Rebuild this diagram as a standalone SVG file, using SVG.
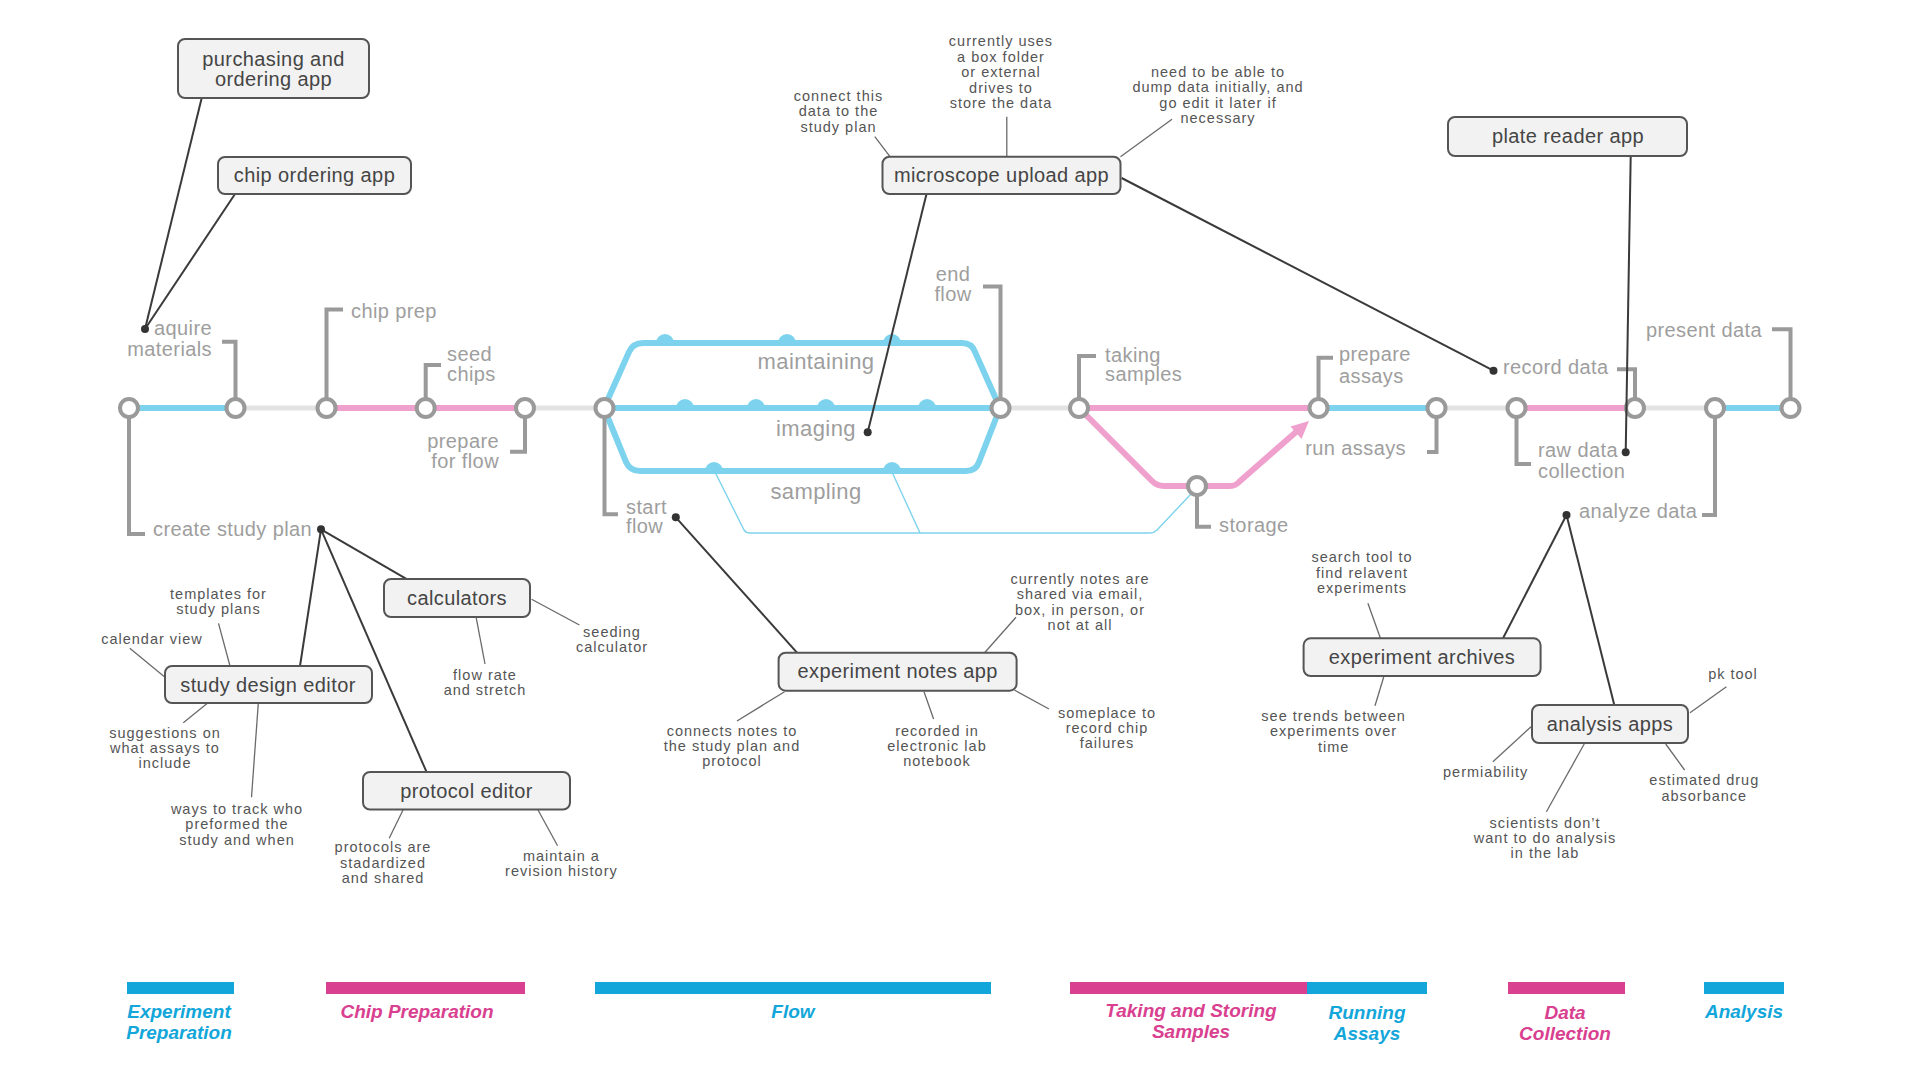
<svg xmlns="http://www.w3.org/2000/svg" width="1920" height="1080" viewBox="0 0 1920 1080">
<style>
.lbl{font-family:"Liberation Sans",Arial,sans-serif;font-size:20px;fill:#9e9e9e;letter-spacing:0.4px}
.big{font-size:22px}
.bt{font-family:"Liberation Sans",Arial,sans-serif;font-size:20px;fill:#454545;letter-spacing:0.4px;text-anchor:middle}
.ann{font-family:"Liberation Sans",Arial,sans-serif;font-size:14.5px;fill:#555;letter-spacing:1px;text-anchor:middle}
.box{fill:#f2f2f2;stroke:#555;stroke-width:2}
.st{fill:#fff;stroke:#9a9a9a;stroke-width:4}
.brk{fill:none;stroke:#9a9a9a;stroke-width:4}
.blue{fill:none;stroke:#7dd3ee;stroke-width:6}
.pink{fill:none;stroke:#f0a0cc;stroke-width:6}
.gray{fill:none;stroke:#e3e3e3;stroke-width:5}
.thin{fill:none;stroke:#7dd3ee;stroke-width:1.4}
.major{stroke:#3a3a3a;stroke-width:2;fill:none}
.minor{stroke:#6a6a6a;stroke-width:1.3;fill:none}
.dot{fill:#333}
.leg{font-family:"Liberation Sans",Arial,sans-serif;font-size:19px;font-style:italic;font-weight:bold;text-anchor:middle}
.lb{fill:#12a6da}
.lp{fill:#d9408f}
</style>
<rect width="1920" height="1080" fill="#fff"/>

<g id="track">
<line class="blue" x1="129" y1="408" x2="235" y2="408"/>
<line class="gray" x1="235" y1="408" x2="326" y2="408"/>
<line class="pink" x1="326" y1="408" x2="525" y2="408"/>
<line class="gray" x1="525" y1="408" x2="604" y2="408"/>
<line class="blue" x1="604" y1="408" x2="1000" y2="408"/>
<path class="blue" d="M604,408 L629,352 Q633,343 643,343 L962,343 Q972,343 975,352 L1000,408"/>
<path class="blue" d="M604,408 L626,462 Q630,471 640,471 L966,471 Q976,471 979,462 L1000,408"/>
<g fill="#7dd3ee">
<path d="M656,343 A9,9 0 0 1 674,343 Z"/>
<path d="M778,343 A9,9 0 0 1 796,343 Z"/>
<path d="M883,343 A9,9 0 0 1 901,343 Z"/>
<path d="M676,408 A9,9 0 0 1 694,408 Z"/>
<path d="M747,408 A9,9 0 0 1 765,408 Z"/>
<path d="M817,408 A9,9 0 0 1 835,408 Z"/>
<path d="M918,408 A9,9 0 0 1 936,408 Z"/>
<path d="M705,471 A9,9 0 0 1 723,471 Z"/>
<path d="M883,471 A9,9 0 0 1 901,471 Z"/>
</g>
<path class="thin" d="M715,472 L744,530 Q746,533 750,533 L1150,533 Q1154,533 1157,530 L1191,494"/>
<line class="thin" x1="892" y1="472" x2="920" y2="533"/>
<line class="gray" x1="1000" y1="408" x2="1079" y2="408"/>
<line class="pink" x1="1079" y1="408" x2="1318" y2="408"/>
<path class="pink" d="M1079,408 L1152,481 Q1157,486 1164,486 L1230,486 Q1236,486 1240,481 L1296,432"/>
<polygon fill="#f0a0cc" points="1309,421 1301.5,439 1290.5,426.5"/>
<line class="blue" x1="1318" y1="408" x2="1437" y2="408"/>
<line class="gray" x1="1437" y1="408" x2="1516" y2="408"/>
<line class="pink" x1="1516" y1="408" x2="1635" y2="408"/>
<line class="gray" x1="1635" y1="408" x2="1715" y2="408"/>
<line class="blue" x1="1715" y1="408" x2="1791" y2="408"/>
</g>

<g id="brackets">
<path class="brk" d="M235.5,398 V341.7 H222"/>
<path class="brk" d="M326.5,398 V309.5 H343"/>
<path class="brk" d="M425.7,398 V365 H441"/>
<path class="brk" d="M525,418 V451.7 H510"/>
<path class="brk" d="M129,418 V534 H145"/>
<path class="brk" d="M604.5,418 V514.3 H618"/>
<path class="brk" d="M1000.5,398 V286.5 H983"/>
<path class="brk" d="M1079,398 V356 H1096"/>
<path class="brk" d="M1197,496 V526.7 H1211"/>
<path class="brk" d="M1318.5,398 V357.7 H1333"/>
<path class="brk" d="M1436.5,418 V452 H1427"/>
<path class="brk" d="M1635,398 V369.3 H1617"/>
<path class="brk" d="M1516.5,418 V464 H1531"/>
<path class="brk" d="M1790.5,398 V329.3 H1772"/>
<path class="brk" d="M1715,418 V515 H1702"/>
</g>

<g id="stations">
<circle class="st" cx="129" cy="408" r="9"/>
<circle class="st" cx="235.5" cy="408" r="9"/>
<circle class="st" cx="326.5" cy="408" r="9"/>
<circle class="st" cx="425.7" cy="408" r="9"/>
<circle class="st" cx="525" cy="408" r="9"/>
<circle class="st" cx="604.5" cy="408" r="9"/>
<circle class="st" cx="1000.5" cy="408" r="9"/>
<circle class="st" cx="1079" cy="408" r="9"/>
<circle class="st" cx="1197" cy="486" r="9"/>
<circle class="st" cx="1318.5" cy="408" r="9"/>
<circle class="st" cx="1436.5" cy="408" r="9"/>
<circle class="st" cx="1516.5" cy="408" r="9"/>
<circle class="st" cx="1635" cy="408" r="9"/>
<circle class="st" cx="1715" cy="408" r="9"/>
<circle class="st" cx="1790.5" cy="408" r="9"/>
</g>

<g id="station-labels">
<g id="aquire-materials"><text class="lbl" text-anchor="end" x="212" y="335">aquire</text><text class="lbl" text-anchor="end" x="212" y="356">materials</text></g>
<g id="chip-prep"><text class="lbl" x="351" y="318">chip prep</text></g>
<g id="seed-chips"><text class="lbl" x="447" y="361">seed</text><text class="lbl" x="447" y="381">chips</text></g>
<g id="prepare-for-flow"><text class="lbl" text-anchor="end" x="499" y="448">prepare</text><text class="lbl" text-anchor="end" x="499" y="468">for flow</text></g>
<g id="create-study-plan"><text class="lbl" x="153" y="536">create study plan</text></g>
<g id="start-flow"><text class="lbl" x="626" y="514">start</text><text class="lbl" x="626" y="533">flow</text></g>
<g id="end-flow"><text class="lbl" text-anchor="middle" x="953" y="281">end</text><text class="lbl" text-anchor="middle" x="953" y="301">flow</text></g>
<g id="maintaining"><text class="lbl big" text-anchor="middle" x="816" y="369">maintaining</text></g>
<g id="imaging"><text class="lbl big" text-anchor="middle" x="816" y="436">imaging</text></g>
<g id="sampling"><text class="lbl big" text-anchor="middle" x="816" y="499">sampling</text></g>
<g id="taking-samples"><text class="lbl" x="1105" y="362">taking</text><text class="lbl" x="1105" y="381">samples</text></g>
<g id="storage"><text class="lbl" x="1219" y="532">storage</text></g>
<g id="prepare-assays"><text class="lbl" x="1339" y="361">prepare</text><text class="lbl" x="1339" y="383">assays</text></g>
<g id="run-assays"><text class="lbl" text-anchor="end" x="1406" y="455">run assays</text></g>
<g id="record-data"><text class="lbl" x="1503" y="374">record data</text></g>
<g id="raw-data-collection"><text class="lbl" x="1538" y="457">raw data</text><text class="lbl" x="1538" y="478">collection</text></g>
<g id="present-data"><text class="lbl" text-anchor="end" x="1762" y="337">present data</text></g>
<g id="analyze-data"><text class="lbl" x="1579" y="518">analyze data</text></g>
</g>

<g id="connectors">
<line class="major" x1="201.7" y1="98" x2="145" y2="329"/>
<line class="major" x1="235" y1="194" x2="145" y2="329"/>
<line class="major" x1="926.5" y1="194" x2="867.7" y2="432.3"/>
<line class="major" x1="1121.6" y1="178" x2="1493.5" y2="370.7"/>
<line class="major" x1="1630.7" y1="155.7" x2="1625.7" y2="452.3"/>
<line class="major" x1="321" y1="529.3" x2="300" y2="666"/>
<line class="major" x1="321" y1="529.3" x2="426.4" y2="771.7"/>
<line class="major" x1="321" y1="529.3" x2="407.2" y2="579.3"/>
<line class="major" x1="675.8" y1="517.3" x2="797" y2="652.7"/>
<line class="major" x1="1566.5" y1="515" x2="1503" y2="638.3"/>
<line class="major" x1="1566.5" y1="515" x2="1614.3" y2="705"/>
<line class="minor" x1="874.8" y1="136.7" x2="890" y2="156.7"/>
<line class="minor" x1="1006.8" y1="116.7" x2="1006.8" y2="156.7"/>
<line class="minor" x1="1172" y1="119.3" x2="1120.5" y2="156.7"/>
<line class="minor" x1="218.5" y1="623.3" x2="230" y2="666"/>
<line class="minor" x1="129.8" y1="648.3" x2="165" y2="677.3"/>
<line class="minor" x1="183.3" y1="722.7" x2="207.4" y2="703.3"/>
<line class="minor" x1="251.5" y1="797.3" x2="258.3" y2="703.3"/>
<line class="minor" x1="476" y1="616.7" x2="485" y2="664"/>
<line class="minor" x1="531.6" y1="599.3" x2="579.4" y2="625"/>
<line class="minor" x1="403.4" y1="809.3" x2="389.2" y2="838.3"/>
<line class="minor" x1="538" y1="810" x2="557.6" y2="845.7"/>
<line class="minor" x1="1016" y1="617.3" x2="984.6" y2="652.7"/>
<line class="minor" x1="784.6" y1="691.7" x2="737" y2="721"/>
<line class="minor" x1="924" y1="691.7" x2="933.6" y2="719"/>
<line class="minor" x1="1014.3" y1="690" x2="1049" y2="709"/>
<line class="minor" x1="1367.9" y1="603.3" x2="1380.4" y2="638.3"/>
<line class="minor" x1="1384" y1="676" x2="1375" y2="705.7"/>
<line class="minor" x1="1726.4" y1="686.7" x2="1690" y2="712.7"/>
<line class="minor" x1="1492.9" y1="761.7" x2="1531" y2="726.7"/>
<line class="minor" x1="1584.6" y1="743.3" x2="1546.4" y2="811.7"/>
<line class="minor" x1="1665.7" y1="744" x2="1684.6" y2="770"/>
<circle class="dot" cx="145" cy="329" r="4"/>
<circle class="dot" cx="321" cy="529.3" r="4"/>
<circle class="dot" cx="675.8" cy="517.3" r="4"/>
<circle class="dot" cx="867.7" cy="432.3" r="4"/>
<circle class="dot" cx="1493.5" cy="370.7" r="4"/>
<circle class="dot" cx="1625.7" cy="452.3" r="4"/>
<circle class="dot" cx="1566.5" cy="515" r="4"/>
</g>

<g id="purchasing-app"><rect class="box" x="178" y="39" width="191" height="59" rx="7"/><text class="bt" x="273.5" y="66">purchasing and</text><text class="bt" x="273.5" y="86">ordering app</text></g>
<g id="chip-ordering-app"><rect class="box" x="218" y="157" width="193" height="37" rx="7"/><text class="bt" x="314.5" y="182">chip ordering app</text></g>
<g id="microscope-upload-app"><rect class="box" x="882.5" y="156.7" width="238" height="37.3" rx="7"/><text class="bt" x="1001.5" y="182">microscope upload app</text>
<text class="ann" x="838.5" y="101">connect this<tspan x="838.5" dy="15.3">data to the</tspan><tspan x="838.5" dy="15.3">study plan</tspan></text>
<text class="ann" x="1001" y="46">currently uses<tspan x="1001" dy="15.5">a box folder</tspan><tspan x="1001" dy="15.5">or external</tspan><tspan x="1001" dy="15.5">drives to</tspan><tspan x="1001" dy="15.5">store the data</tspan></text>
<text class="ann" x="1218" y="76.7">need to be able to<tspan x="1218" dy="15.5">dump data initially, and</tspan><tspan x="1218" dy="15.5">go edit it later if</tspan><tspan x="1218" dy="15.5">necessary</tspan></text>
</g>
<g id="plate-reader-app"><rect class="box" x="1448" y="117" width="239" height="39" rx="7"/><text class="bt" x="1568" y="143">plate reader app</text></g>
<g id="calculators"><rect class="box" x="384" y="579" width="146" height="38" rx="7"/><text class="bt" x="457" y="605">calculators</text>
<text class="ann" x="485" y="680">flow rate<tspan x="485" dy="15">and stretch</tspan></text>
<text class="ann" x="612" y="636.7">seeding<tspan x="612" dy="15">calculator</tspan></text>
</g>
<g id="study-design-editor"><rect class="box" x="165" y="666" width="207" height="37" rx="7"/><text class="bt" x="268" y="692">study design editor</text>
<text class="ann" x="218.5" y="599">templates for<tspan x="218.5" dy="15.3">study plans</tspan></text>
<text class="ann" x="152" y="644">calendar view</text>
<text class="ann" x="165" y="737.7">suggestions on<tspan x="165" dy="15">what assays to</tspan><tspan x="165" dy="15">include</tspan></text>
<text class="ann" x="237" y="814">ways to track who<tspan x="237" dy="15.3">preformed the</tspan><tspan x="237" dy="15.3">study and when</tspan></text>
</g>
<g id="protocol-editor"><rect class="box" x="363" y="772" width="207" height="37.5" rx="7"/><text class="bt" x="466.5" y="798">protocol editor</text>
<text class="ann" x="383" y="852.3">protocols are<tspan x="383" dy="15.5">stadardized</tspan><tspan x="383" dy="15.5">and shared</tspan></text>
<text class="ann" x="561.4" y="861">maintain a<tspan x="561.4" dy="15">revision history</tspan></text>
</g>
<g id="experiment-notes-app"><rect class="box" x="778.6" y="652.7" width="238" height="38" rx="7"/><text class="bt" x="897.7" y="678">experiment notes app</text>
<text class="ann" x="1080" y="584">currently notes are<tspan x="1080" dy="15.4">shared via email,</tspan><tspan x="1080" dy="15.4">box, in person, or</tspan><tspan x="1080" dy="15.4">not at all</tspan></text>
<text class="ann" x="732" y="735.7">connects notes to<tspan x="732" dy="15.2">the study plan and</tspan><tspan x="732" dy="15.2">protocol</tspan></text>
<text class="ann" x="937" y="735.7">recorded in<tspan x="937" dy="15.2">electronic lab</tspan><tspan x="937" dy="15.2">notebook</tspan></text>
<text class="ann" x="1107" y="718.3">someplace to<tspan x="1107" dy="15">record chip</tspan><tspan x="1107" dy="15">failures</tspan></text>
</g>
<g id="experiment-archives"><rect class="box" x="1303.6" y="638.3" width="237" height="37.7" rx="7"/><text class="bt" x="1422" y="664">experiment archives</text>
<text class="ann" x="1362" y="562.3">search tool to<tspan x="1362" dy="15.5">find relavent</tspan><tspan x="1362" dy="15.5">experiments</tspan></text>
<text class="ann" x="1333.6" y="721">see trends between<tspan x="1333.6" dy="15.4">experiments over</tspan><tspan x="1333.6" dy="15.4">time</tspan></text>
</g>
<g id="analysis-apps"><rect class="box" x="1532" y="705" width="156" height="38" rx="7"/><text class="bt" x="1610" y="731">analysis apps</text>
<text class="ann" x="1733" y="679">pk tool</text>
<text class="ann" x="1485.7" y="777">permiability</text>
<text class="ann" x="1545" y="827.7">scientists don’t<tspan x="1545" dy="15">want to do analysis</tspan><tspan x="1545" dy="15">in the lab</tspan></text>
<text class="ann" x="1704.3" y="785">estimated drug<tspan x="1704.3" dy="15.7">absorbance</tspan></text>
</g>

<g id="legend">
<g id="leg-experiment-preparation"><rect class="lb" x="127" y="982" width="107" height="12"/><text class="leg lb" x="179" y="1018">Experiment<tspan x="179" dy="21">Preparation</tspan></text></g>
<g id="leg-chip-preparation"><rect class="lp" x="326" y="982" width="199" height="12"/><text class="leg lp" x="417" y="1018">Chip Preparation</text></g>
<g id="leg-flow"><rect class="lb" x="595" y="982" width="396" height="12"/><text class="leg lb" x="793" y="1018">Flow</text></g>
<g id="leg-taking-storing"><rect class="lp" x="1070" y="982" width="237" height="12"/><text class="leg lp" x="1191" y="1017">Taking and Storing<tspan x="1191" dy="21">Samples</tspan></text></g>
<g id="leg-running-assays"><rect class="lb" x="1307" y="982" width="120" height="12"/><text class="leg lb" x="1367" y="1019">Running<tspan x="1367" dy="21">Assays</tspan></text></g>
<g id="leg-data-collection"><rect class="lp" x="1508" y="982" width="117" height="12"/><text class="leg lp" x="1565" y="1019">Data<tspan x="1565" dy="21">Collection</tspan></text></g>
<g id="leg-analysis"><rect class="lb" x="1704" y="982" width="80" height="12"/><text class="leg lb" x="1744" y="1018">Analysis</text></g>
</g>
</svg>
